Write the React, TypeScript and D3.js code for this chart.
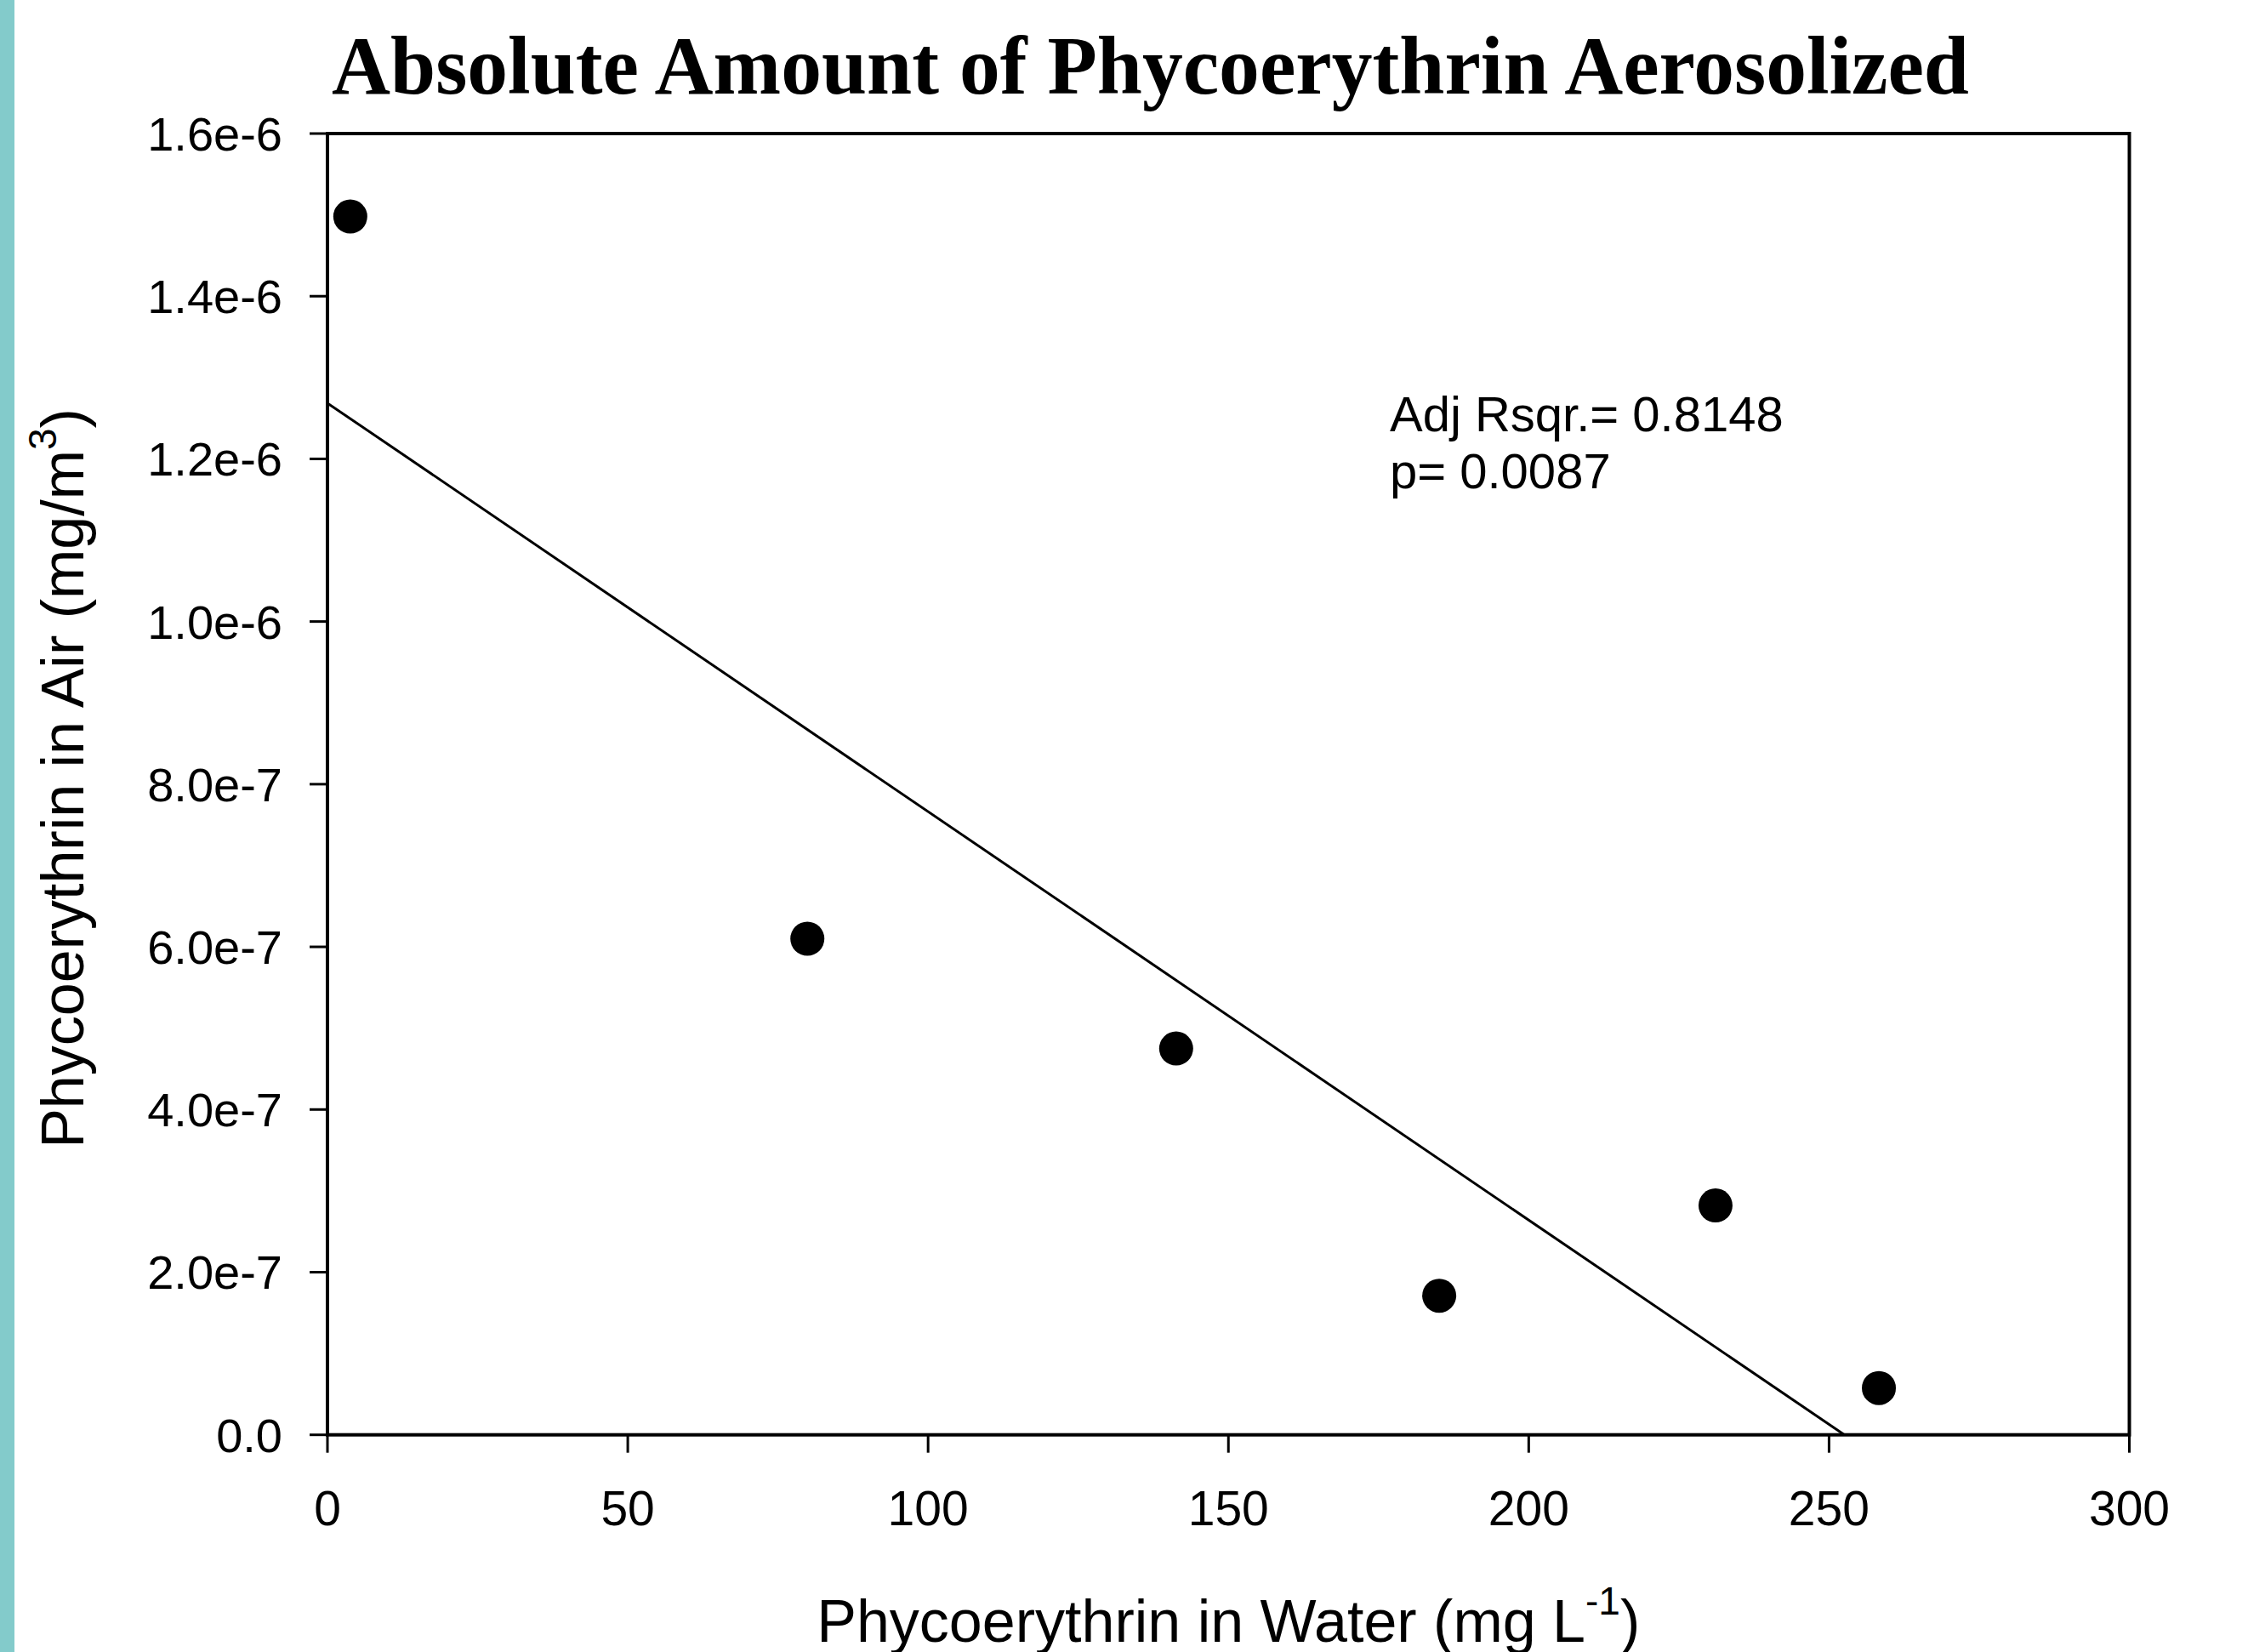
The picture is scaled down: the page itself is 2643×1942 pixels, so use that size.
import * as d3 from "d3";

// readings from the picture
const waterPE = [3.8, 79.9, 141.3, 185.1, 231.1, 258.3];
const airPE = [1.498e-6, 6.1e-7, 4.75e-7, 1.71e-7, 2.82e-7, 5.75e-8];
const xTicks = [0, 50, 100, 150, 200, 250, 300];
const yTicks = [0, 2e-7, 4e-7, 6e-7, 8e-7, 1e-6, 1.2e-6, 1.4e-6, 1.6e-6];
const statLines = ["Adj Rsqr.= 0.8148", "p= 0.0087"];

const sans = "'Liberation Sans', Arial, sans-serif";
const serif = "'Liberation Serif', 'Times New Roman', serif";

export default function App() {
  const width = 2643;
  const height = 1942;
  const margin = { top: 157, right: 139.5, bottom: 255.3, left: 385 };
  const innerWidth = width - margin.left - margin.right;
  const innerHeight = height - margin.top - margin.bottom;

  const xScale = d3.scaleLinear().domain([0, 300]).range([0, innerWidth]);
  const yScale = d3.scaleLinear().domain([0, 1.6e-6]).range([innerHeight, 0]);

  // least squares fit of air vs water
  const mx = d3.mean(waterPE);
  const my = d3.mean(airPE);
  const sxy = d3.sum(waterPE.map((x, i) => (x - mx) * (airPE[i] - my)));
  const sxx = d3.sum(waterPE.map((x) => (x - mx) * (x - mx)));
  const slope = sxy / sxx;
  const intercept = my - slope * mx;
  const xEnd = -intercept / slope;
  const fitLine = d3
    .line()
    .x((d) => xScale(d[0]))
    .y((d) => yScale(d[1]));
  const fitPts = [
    [0, intercept],
    [xEnd, 0],
  ];

  const fmtY = (v) => (v === 0 ? "0.0" : v.toExponential(1));
  const tickLen = 21;

  return (
    <svg
      width={width}
      height={height}
      style={{ position: "absolute", left: 0, top: 0, display: "block", background: "white" }}
    >
      <rect x={0} y={0} width={17} height={height} fill="#83cbcb" />
      <text
        x={390}
        y={110}
        fontFamily={serif}
        fontWeight="bold"
        fontSize={98}
        textLength={1925}
        lengthAdjust="spacingAndGlyphs"
        fill="black"
      >
        Absolute Amount of Phycoerythrin Aerosolized
      </text>
      <g transform={`translate(${margin.left}, ${margin.top})`}>
        {/* frame */}
        <rect
          x={0}
          y={0}
          width={innerWidth}
          height={innerHeight}
          fill="none"
          stroke="black"
          strokeWidth={4}
        />
        {/* y axis */}
        {yTicks.map((t, i) => (
          <g key={i} transform={`translate(0, ${yScale(t)})`}>
            <line x1={-tickLen} x2={0} stroke="black" strokeWidth={3} />
            <text
              x={-53}
              y={20}
              textAnchor="end"
              fontFamily={sans}
              fontSize={56}
              fill="black"
            >
              {fmtY(t)}
            </text>
          </g>
        ))}
        {/* x axis */}
        {xTicks.map((t, i) => (
          <g key={i} transform={`translate(${xScale(t)}, ${innerHeight})`}>
            <line y1={0} y2={tickLen} stroke="black" strokeWidth={3} />
            <text
              y={106}
              textAnchor="middle"
              fontFamily={sans}
              fontSize={57}
              fill="black"
            >
              {t}
            </text>
          </g>
        ))}
        <path d={fitLine(fitPts)} fill="none" stroke="black" strokeWidth={3} />
        {waterPE.map((x, i) => (
          <circle key={i} cx={xScale(x)} cy={yScale(airPE[i])} r={20} fill="black" />
        ))}
        {statLines.map((s, i) => (
          <text
            key={i}
            x={1634 - margin.left}
            y={507 - margin.top + i * 67}
            fontFamily={sans}
            fontSize={58}
            fill="black"
          >
            {s}
          </text>
        ))}
      </g>
      <text
        x={margin.left + innerWidth / 2}
        y={1930}
        textAnchor="middle"
        fontFamily={sans}
        fontSize={70}
        fill="black"
      >
        Phycoerythrin in Water (mg L
        <tspan fontSize={46} dy={-32}>
          -1
        </tspan>
        <tspan dy={32}>)</tspan>
      </text>
      <text
        transform={`translate(98, 915) rotate(-90)`}
        textAnchor="middle"
        fontFamily={sans}
        fontSize={70}
        fill="black"
      >
        Phycoerythrin in Air (mg/m
        <tspan fontSize={46} dy={-32}>
          3
        </tspan>
        <tspan dy={32}>)</tspan>
      </text>
    </svg>
  );
}
